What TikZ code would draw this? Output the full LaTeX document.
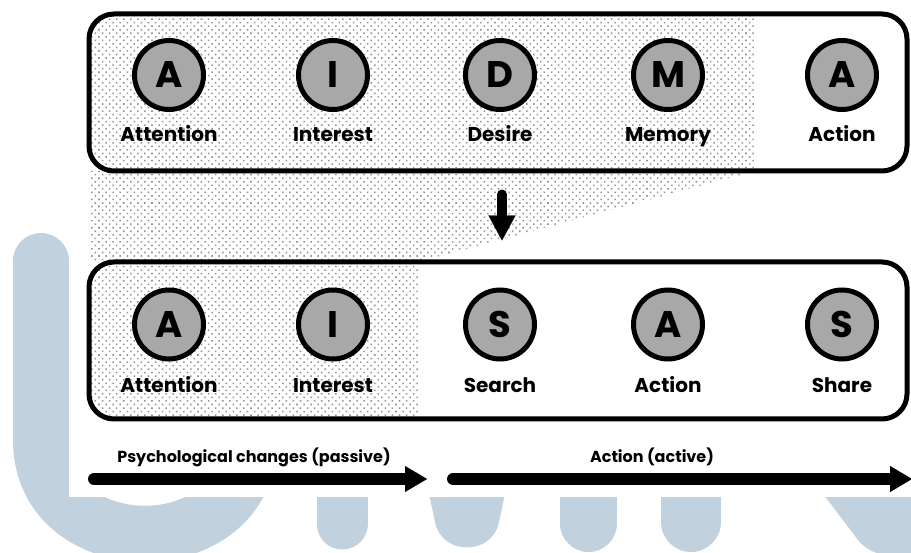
\documentclass[tikz,border=0pt]{standalone}
\usepackage{fontspec}
\setmainfont{Poppins}
\usetikzlibrary{arrows.meta,patterns.meta}
\definecolor{wmblue}{RGB}{193,209,222}
\definecolor{discgray}{RGB}{168,168,168}
\definecolor{dotgray}{RGB}{150,150,150}

\begin{document}
\begin{tikzpicture}[x=1pt,y=-1pt,
  panel/.style={draw, line width=5pt, rounded corners=25pt, minimum width=818pt, minimum height=157pt, inner sep=0pt},
  dotfill/.style={pattern={Dots[distance=5pt,radius=1.1pt,angle=45]}, pattern color=dotgray},
  disc/.style={circle, draw, line width=5pt, fill=discgray, minimum size=69pt, inner sep=0pt, font=\fontsize{37}{40}\selectfont\bfseries},
  caption/.style={anchor=base, font=\fontsize{20}{24}\selectfont\bfseries},
  phase/.style={anchor=base, font=\fontsize{16}{19}\selectfont\bfseries},
  bigarrow/.style={line width=12pt, line cap=round, -{Triangle[length=22pt,width=26pt,line width=0.1pt]}},
  downarrow/.style={line width=10pt, line cap=round, -{Triangle[length=25pt,width=27pt,line width=0.1pt]}}]
\useasboundingbox (0,0) rectangle (911,553);
\begin{scope}
\clip (0,0) rectangle (911,553);
% watermark behind the figure
\draw[wmblue, line width=56pt, line cap=round] (41,261) -- (41,440) .. controls (41,565) and (249,565) .. (249,440) -- (249,300);
\draw[wmblue, line width=51pt, line cap=round] (342,470) -- (342,524);
\fill[wmblue] (424,470) -- (510,470) -- (499,522) .. controls (492,556) and (442,556) .. (435,522) -- cycle;
\draw[wmblue, line width=57pt, line cap=round] (588.5,470) -- (588.5,523.5);
\draw[wmblue, line width=60pt, line cap=round] (691,470) -- (691,522);
\fill[wmblue] (805,470) -- (930,470) -- (930,540) .. controls (915,560) and (875,562) .. (858,540) -- cycle;
\fill[white] (69,0) rectangle (911,497);
\end{scope}

% dotted (passive) area
\begin{scope}
\clip[rounded corners=25pt] (89,14) rectangle (907,171);
\fill[dotfill] (89,14) rectangle (755,171);
\end{scope}
\fill[dotfill] (89,171) -- (755,171) -- (418,262) -- (89,262) -- cycle;
\begin{scope}
\clip[rounded corners=25pt] (89,262) rectangle (907,419);
\fill[dotfill] (89,262) rectangle (418,419);
\end{scope}

% the two models
\node[panel] (upper) at (498,92.5) {};
\node[panel] (lower) at (498,340.5) {};

\node[disc] (aida1) at (169,75) {A};
\node[disc] (aida2) at (333,75) {I};
\node[disc] (aida3) at (500,75) {D};
\node[disc] (aida4) at (668,75) {M};
\node[disc] (aida5) at (842,75) {A};
\node[caption] (cap1) at (169,142) {Attention};
\node[caption] (cap2) at (333,142) {Interest};
\node[caption] (cap3) at (500,142) {Desire};
\node[caption] (cap4) at (668,142) {Memory};
\node[caption] (cap5) at (842,142) {Action};

\node[disc] (aisas1) at (169,324.5) {A};
\node[disc] (aisas2) at (333,324.5) {I};
\node[disc] (aisas3) at (500,324.5) {S};
\node[disc] (aisas4) at (668,324.5) {A};
\node[disc] (aisas5) at (842,324.5) {S};
\node[caption] (lab1) at (169,392) {Attention};
\node[caption] (lab2) at (333,392) {Interest};
\node[caption] (lab3) at (500,392) {Search};
\node[caption] (lab4) at (668,392) {Action};
\node[caption] (lab5) at (842,392) {Share};

\draw[downarrow, shorten <=21pt, shorten >=19pt] ([xshift=4pt]upper.south) -- ([xshift=4pt]lower.north);

% phases
\coordinate (pas0) at (94,479);
\coordinate (pas1) at (427,479);
\coordinate (act0) at (453,479);
\coordinate (act1) at (912,479);
\node[phase] (paslab) at (254,463) {Psychological changes (passive)};
\node[phase] (actlab) at (652,463) {Action (active)};
\draw[bigarrow] (pas0) -- (pas1);
\draw[bigarrow] (act0) -- (act1);
\end{tikzpicture}
\end{document}
